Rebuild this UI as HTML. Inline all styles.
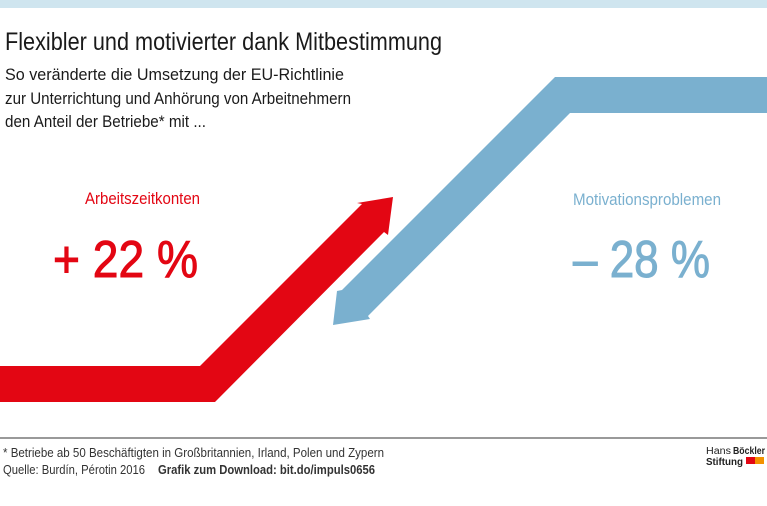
<!DOCTYPE html>
<html><head><meta charset="utf-8"><style>body{margin:0;background:#fff}svg{display:block}</style></head>
<body>
<svg width="767" height="506" viewBox="0 0 767 506" xmlns="http://www.w3.org/2000/svg" font-family="Liberation Sans, sans-serif">
<rect x="0" y="0" width="767" height="8" fill="#cfe5ef"/>
<text x="5" y="50" font-size="25" fill="#1a1a1a" textLength="437" lengthAdjust="spacingAndGlyphs">Flexibler und motivierter dank Mitbestimmung</text>
<text x="5" y="80" font-size="17" fill="#1a1a1a" textLength="339" lengthAdjust="spacingAndGlyphs">So veränderte die Umsetzung der EU-Richtlinie</text>
<text x="5" y="104" font-size="17" fill="#1a1a1a" textLength="346" lengthAdjust="spacingAndGlyphs">zur Unterrichtung und Anhörung von Arbeitnehmern</text>
<text x="5" y="127" font-size="17" fill="#1a1a1a" textLength="201" lengthAdjust="spacingAndGlyphs">den Anteil der Betriebe* mit ...</text>
<polygon fill="#7ab0cf" points="767,77 555,77 342,290 337,291 333,325 370,319 368,316 570,113 767,113"/>
<polygon fill="#e30613" points="0,366 200,366 362,204 357,203 393,197 388,235 384,232 215,402 0,402"/>
<text x="85" y="204" font-size="17" fill="#e30613" textLength="115" lengthAdjust="spacingAndGlyphs">Arbeitszeitkonten</text>
<text x="53" y="277" font-size="52" fill="#e30613" stroke="#e30613" stroke-width="1" textLength="145" lengthAdjust="spacingAndGlyphs">+ 22 %</text>
<text x="573" y="205" font-size="17" fill="#7ab0cf" textLength="148" lengthAdjust="spacingAndGlyphs">Motivationsproblemen</text>
<text x="573" y="277" font-size="52" fill="#7ab0cf" stroke="#7ab0cf" stroke-width="1" textLength="137" lengthAdjust="spacingAndGlyphs">– 28 %</text>
<rect x="0" y="437" width="767" height="2" fill="#999"/>
<text x="3" y="457" font-size="13" fill="#333" textLength="381" lengthAdjust="spacingAndGlyphs">* Betriebe ab 50 Beschäftigten in Großbritannien, Irland, Polen und Zypern</text>
<text x="3" y="474" font-size="13" fill="#333" textLength="142" lengthAdjust="spacingAndGlyphs">Quelle: Burdín, Pérotin 2016</text>
<text x="158" y="474" font-size="13" font-weight="bold" fill="#333" textLength="217" lengthAdjust="spacingAndGlyphs">Grafik zum Download: bit.do/impuls0656</text>
<text x="706" y="454" font-size="10" fill="#222" textLength="25" lengthAdjust="spacingAndGlyphs">Hans</text>
<text x="733" y="454" font-size="10" font-weight="bold" fill="#222" textLength="32" lengthAdjust="spacingAndGlyphs">Böckler</text>
<text x="706" y="465" font-size="10" font-weight="bold" fill="#222" textLength="37" lengthAdjust="spacingAndGlyphs">Stiftung</text>
<rect x="746" y="457" width="9" height="7" fill="#e30613"/>
<rect x="755" y="457" width="9" height="7" fill="#f39200"/>
</svg>
</body></html>
